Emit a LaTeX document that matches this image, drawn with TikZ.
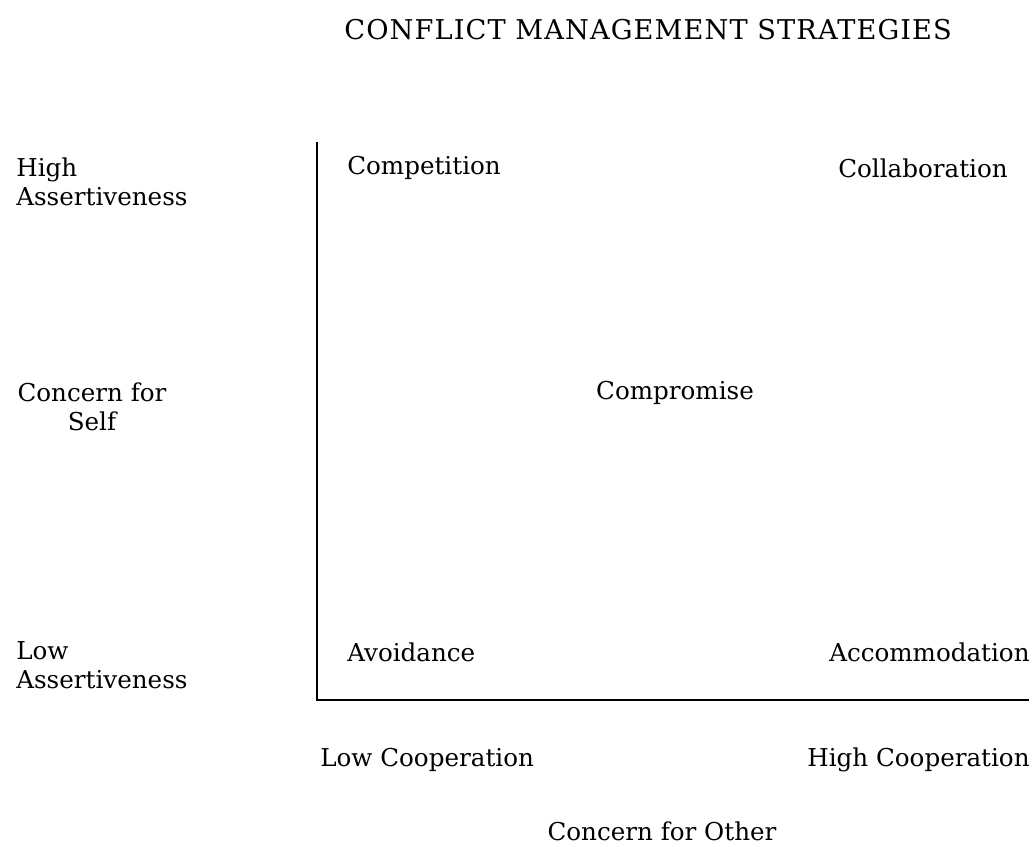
\documentclass[tikz,border=0pt]{standalone}
\usepackage{fontspec}
\setmainfont{DejaVu Serif}
\begin{document}
\begin{tikzpicture}[x=0.02cm,y=0.02cm,
    lbl/.style={inner sep=0pt,font=\fontsize{14}{16.5}\selectfont}]
  \useasboundingbox (0,0) rectangle (1033,-846);
  % axes
  \coordinate (ytop) at (317,-142);
  \coordinate (origin) at (317,-700);
  \coordinate (xend) at (1029,-700);
  \draw [line width=1.1pt] (ytop) -- (origin) -- (xend);
  % title
  \node [lbl,anchor=west,font=\fontsize{15.5}{18}\selectfont] (title) at (344,-30)
    {\addfontfeature{LetterSpace=4}CONFLICT MANAGEMENT STRATEGIES};
  % vertical axis labels
  \node [lbl,anchor=north west,align=left] (highass) at (16,-157) {High\\Assertiveness};
  \node [lbl,anchor=north,align=center] (self) at (92,-382) {Concern for\\Self};
  \node [lbl,anchor=north west,align=left] (lowass) at (16,-641) {Low\\Assertiveness};
  % strategies
  \node [lbl,anchor=west] (competition) at (347,-168) {Competition};
  \node [lbl,anchor=east] (collaboration) at (1008,-168) {Collaboration};
  \node [lbl] (compromise) at (675,-393) {Compromise};
  \node [lbl,anchor=west] (avoidance) at (347,-652) {Avoidance};
  \node [lbl,anchor=east] (accommodation) at (1030,-652) {Accommodation};
  % horizontal axis labels
  \node [lbl,anchor=west] (lowcoop) at (320,-760) {Low Cooperation};
  \node [lbl,anchor=east] (highcoop) at (1030,-760) {High Cooperation};
  \node [lbl] (other) at (662,-831) {Concern for Other};
\end{tikzpicture}
\end{document}
